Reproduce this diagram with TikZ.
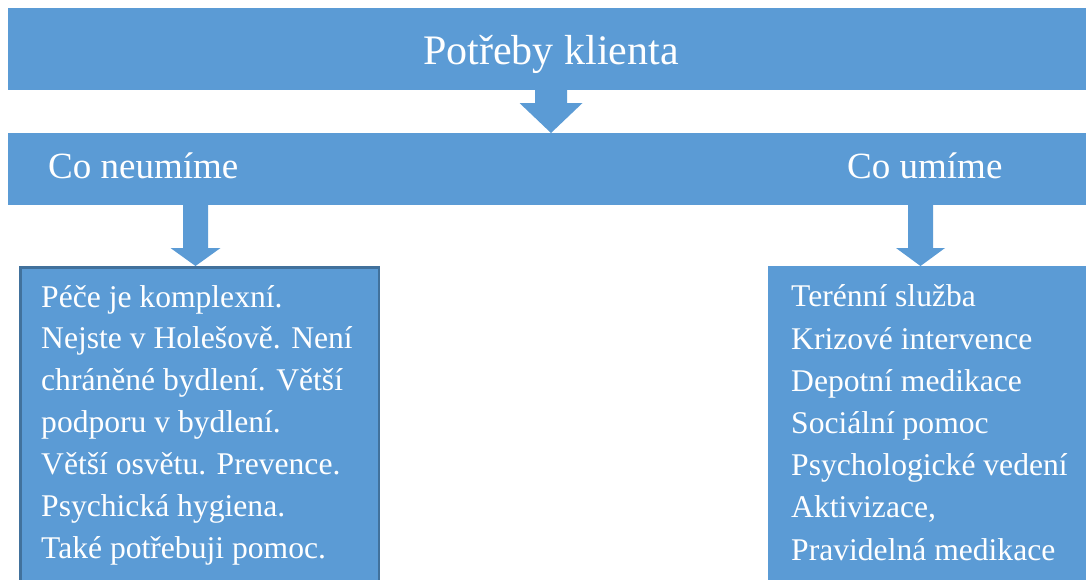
\documentclass[tikz,border=0pt]{standalone}
\usepackage{fontspec}
\setmainfont{Liberation Serif}
\usetikzlibrary{calc}
\definecolor{office}{HTML}{5B9BD5}
\definecolor{officeedge}{HTML}{41719C}
\tikzset{
  bar/.style={fill=office, draw=none, anchor=north west, inner sep=0pt, minimum height=#1},
  box/.style={fill=office, anchor=north west, inner sep=0pt},
  txt/.style={text=white, inner sep=0pt, anchor=base west},
  blockarrow/.style={fill=office, draw=none}
}
\newcommand{\myblockarrow}[5]{% from, to, shaft half width, head half width, head length
  \fill[blockarrow] ($(#1)+(-#3,0)$) -- ($(#2)+(-#3,-#5)$) -- ($(#2)+(-#4,-#5)$) -- (#2)
    -- ($(#2)+(#4,-#5)$) -- ($(#2)+(#3,-#5)$) -- ($(#1)+(#3,0)$) -- cycle;}
\begin{document}
\begin{tikzpicture}[x=1pt,y=-1pt]
\useasboundingbox (0,0) rectangle (1086,579);
\fill[white] (0,0) rectangle (1086,579);
% bars
\node[bar=82pt, minimum width=1090pt] (top) at (8,8) {};
\node[bar=72pt, minimum width=1090pt] (mid) at (8,133) {};
% boxes
\node[box, draw=officeedge, line width=2.5pt, minimum width=358.5pt, minimum height=330pt] (left) at (19.25,266.25) {};
\node[box, minimum width=330pt, minimum height=330pt] (right) at (768,266) {};
% titles
\node[txt, font=\fontsize{42}{50}\selectfont, anchor=base] (title) at (551,64) {Potřeby klienta};
\node[txt, font=\fontsize{37}{44}\selectfont] (neu) at (48,178) {Co neumíme};
\node[txt, font=\fontsize{37}{44}\selectfont] (umi) at (847,178) {Co umíme};
% lists (anchor base = baseline of last line)
\node[txt, font=\fontsize{31.6}{41.83}\selectfont, align=left] (ltext) at (41,558)
 {Péče je komplexní.\\Nejste v Holešově. Není\\chráněné bydlení. Větší\\podporu v bydlení.\\Větší osvětu. Prevence.\\Psychická hygiena.\\Také potřebuji pomoc.};
\node[txt, font=\fontsize{31.6}{42.17}\selectfont, align=left] (rtext) at (791,560)
 {Terénní služba\\Krizové intervence\\Depotní medikace\\Sociální pomoc\\Psychologické vedení\\Aktivizace,\\Pravidelná medikace};
% arrows
\coordinate (a1s) at (551,90);  \coordinate (a1e) at (551,133);
\coordinate (a2s) at (195.5,205); \coordinate (a2e) at (195.5,266);
\coordinate (a3s) at (920.5,205); \coordinate (a3e) at (920.5,266);
\myblockarrow{a1s}{a1e}{16}{31.5}{30}
\myblockarrow{a2s}{a2e}{12.5}{25}{18}
\myblockarrow{a3s}{a3e}{12.5}{24.5}{18}
\end{tikzpicture}
\end{document}
